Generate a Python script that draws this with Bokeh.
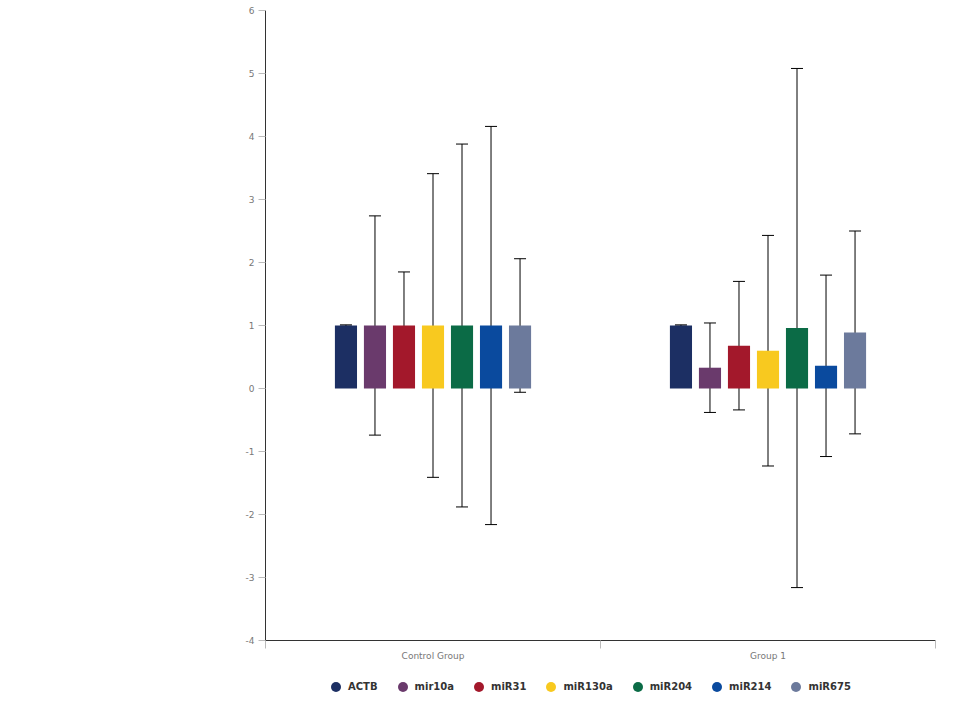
from bokeh.plotting import figure
from bokeh.layouts import column
from bokeh.models import (ColumnDataSource, Range1d, FixedTicker, Whisker, TeeHead,
                          Legend, LegendItem, LinearAxis)
from bokeh.embed import file_html
from bokeh.resources import INLINE

groups = ["Control Group", "Group 1"]
series = ["ACTB", "mir10a", "miR31", "miR130a", "miR204", "miR214", "miR675"]
colors = ["#1c2f63", "#6a3a6c", "#a3182b", "#f8c91f", "#0b6b46", "#0a4a9e", "#6c7a9c"]
control_mean = [1.0, 1.0, 1.0, 1.0, 1.0, 1.0, 1.0]
control_err = [0.01, 1.74, 0.85, 2.41, 2.88, 3.16, 1.06]
group1_mean = [1.0, 0.33, 0.68, 0.60, 0.96, 0.36, 0.89]
group1_err = [0.01, 0.71, 1.02, 1.83, 4.12, 1.44, 1.61]
y_ticks = [-4, -3, -2, -1, 0, 1, 2, 3, 4, 5, 6]

slot = 0.0866
bar_w = 0.066

p = figure(width=960, height=666, output_backend="svg", toolbar_location=None,
           x_range=Range1d(0, len(groups)), y_range=Range1d(-4, 6),
           min_border_left=265, min_border_right=25, min_border_top=10,
           min_border_bottom=26,
           x_axis_location=None, y_axis_location=None)
p.outline_line_color = None
p.grid.visible = False
p.background_fill_color = "white"

leg = figure(width=960, height=36, output_backend="svg", toolbar_location=None,
             x_range=Range1d(0, 1), y_range=Range1d(0, 1),
             min_border=0, x_axis_location=None, y_axis_location=None)
leg.outline_line_color = None
leg.grid.visible = False

means = [control_mean, group1_mean]
errs = [control_err, group1_err]
items = []
for i, s in enumerate(series):
    xs = [g + 0.5 + (i - (len(series) - 1) / 2) * slot for g in range(len(groups))]
    tops = [means[g][i] for g in range(len(groups))]
    e = [errs[g][i] for g in range(len(groups))]
    src = ColumnDataSource(dict(x=xs, top=tops,
                                lo=[t - d for t, d in zip(tops, e)],
                                hi=[t + d for t, d in zip(tops, e)]))
    p.vbar(x="x", top="top", bottom=0, width=bar_w, source=src,
           fill_color=colors[i], line_color=None)
    w = Whisker(base="x", upper="hi", lower="lo", source=src, line_color="black",
                line_width=1,
                upper_head=TeeHead(size=12, line_color="black", line_width=1),
                lower_head=TeeHead(size=12, line_color="black", line_width=1))
    p.add_layout(w)
    # legend-only marker (NaN position, never drawn)
    r = leg.scatter(x=[float("nan")], y=[float("nan")], marker="circle", size=10,
                    fill_color=colors[i], line_color=None)
    items.append(LegendItem(label=s, renderers=[r]))

# y axis
yax = LinearAxis(ticker=FixedTicker(ticks=y_ticks, minor_ticks=[]))
yax.major_label_overrides = {t: str(t) for t in y_ticks}
yax.axis_line_color = "#333333"
yax.major_tick_line_color = "#bbbbbb"
yax.major_tick_out = 7
yax.major_tick_in = 0
yax.major_label_standoff = 4
yax.major_label_text_font = "DejaVu Sans"
yax.major_label_text_font_size = "9px"
yax.major_label_text_color = "#777777"
p.add_layout(yax, "left")

# x axis: labels at group centres, ticks at group boundaries
xax = LinearAxis(ticker=FixedTicker(ticks=[g + 0.5 for g in range(len(groups))],
                                    minor_ticks=list(range(len(groups) + 1))))
xax.major_label_overrides = {g + 0.5: name for g, name in enumerate(groups)}
xax.axis_line_color = "#333333"
xax.major_tick_line_color = None
xax.major_tick_out = 0
xax.major_tick_in = 0
xax.minor_tick_line_color = "#bbbbbb"
xax.minor_tick_out = 8
xax.minor_tick_in = 0
xax.major_label_standoff = 2
xax.major_label_text_font = "DejaVu Sans"
xax.major_label_text_font_size = "9px"
xax.major_label_text_color = "#777777"
p.add_layout(xax, "below")

legend = Legend(items=items, orientation="horizontal", location=(58, 3),
                border_line_color=None, background_fill_alpha=0,
                glyph_width=25, glyph_height=25, label_standoff=0, spacing=12,
                padding=0, margin=0,
                label_text_font="DejaVu Sans", label_text_font_size="10px",
                label_text_font_style="bold", label_text_color="#333333")
leg.add_layout(legend, "center")

open("out.html", "w").write(file_html(column(p, leg, spacing=0), INLINE))
